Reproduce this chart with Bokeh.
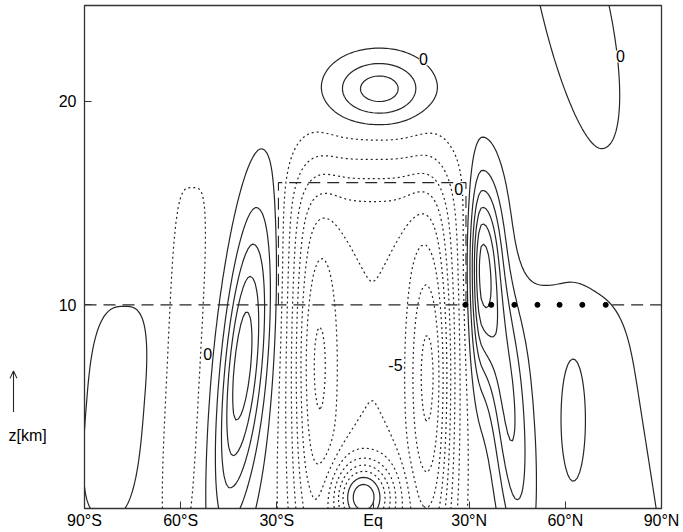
import numpy as np
from bokeh.plotting import figure
from bokeh.layouts import row
from bokeh.models import ColumnDataSource, FixedTicker, LabelSet
from bokeh.core.properties import value
from bokeh.embed import file_html
from bokeh.resources import INLINE

# ---- axes -----------------------------------------------------------------
lat_ticks = [-90, -60, -30, 0, 30, 60, 90]
lat_tick_labels = ["90°S", "60°S", "30°S", "Eq", "30°N", "60°N", "90°N"]
z_ticks = [10, 20]
z_top = 24.7

# ---- field: background plus localised features (lat/z centres, widths,
#      amplitudes, shape exponent, tilt in deg per km) ----------------------
background = -0.5
feat_lat    = [0.0, -18.0, 18.0, -41.0, -80.0, -59.0, 2.0, -3.0, 34.0, 42.0, 56.0, 62.5, 61.0]
feat_z      = [9.0, 7.0, 6.5, 7.0, 5.0, 7.0, 20.6, 0.6, 12.0, 5.0, 5.0, 4.4, 25.0]
feat_wsouth = [25.5, 7.0, 7.0, 6.0, 9.6, 6.0, 14.0, 9.0, 3.5, 5.0, 18.0, 5.0, 9.5]
feat_wnorth = [25.0, 7.0, 6.5, 7.5, 8.7, 6.0, 14.0, 9.0, 6.0, 6.0, 30.0, 5.0, 12.5]
feat_hlow   = [14.0, 8.0, 8.0, 7.0, 5.5, 10.0, 1.5, 1.7, 5.0, 7.0, 20.0, 4.0, 7.5]
feat_hhigh  = [8.0, 7.0, 7.0, 7.0, 5.0, 10.0, 1.5, 1.7, 4.0, 6.0, 6.5, 4.0, 6.0]
feat_amp    = [-4.5, -2.8, -4.0, 5.2, 1.3, -0.9, 3.0, 6.5, 5.5, 3.0, 1.0, 0.9, 1.3]
feat_power  = [5, 2, 2, 2, 3, 4, 2, 2, 2, 2, 4, 2, 2]
feat_tilt   = [0.0, 0.0, 0.0, 0.6, 0.5, 0.3, 0.0, 0.0, 0.0, -0.5, -1.0, 0.0, -1.4]

neg_levels = [-12, -11, -10, -9, -8, -7, -6, -5, -4, -3, -2, -1]
pos_levels = [0, 1, 2, 3, 4, 5, 6, 7]

# reference lines and markers
z_ref = 10
tropo_box_lat = [-29.5, -29.5, 29.0, 29.0]
tropo_box_z = [10, 16, 16, 10]
dot_lat = [28.8, 36.9, 44.1, 51.3, 58.2, 65.3, 72.6]

label_text = ["0", "0", "0", "0", "-5"]
label_lat = [15.7, 77.2, 26.7, -51.6, 7.0]
label_z = [22.05, 22.2, 15.7, 7.6, 7.05]

ink = "#262626"
font = "Liberation Sans"


def build_field(lat, z):
    f = np.full_like(lat, background)
    for i in range(len(feat_lat)):
        dz = z - feat_z[i]
        dl = lat - (feat_lat[i] + feat_tilt[i] * dz)
        w = np.where(dl < 0, feat_wsouth[i], feat_wnorth[i])
        h = np.where(dz < 0, feat_hlow[i], feat_hhigh[i])
        p = feat_power[i]
        f = f + feat_amp[i] * np.exp(-(np.abs(dl / w) ** p + np.abs(dz / h) ** p))
    return f


lat_grid = np.linspace(-90, 90, 241)
z_grid = np.linspace(0, z_top, 200)
LAT, Z = np.meshgrid(lat_grid, z_grid)
F = build_field(LAT, Z)

# ---- main latitude-height panel ----------------------------------------------
p = figure(width=633, height=532, x_range=(-90, 90), y_range=(0, z_top),
           output_backend="svg", toolbar_location=None,
           min_border_left=34, min_border_right=22, min_border_top=5,
           min_border_bottom=24)
p.xgrid.visible = False
p.ygrid.visible = False
p.outline_line_color = "#333333"
p.outline_line_width = 1.3

p.contour(LAT, Z, F, levels=neg_levels, line_color=ink, line_width=1.2,
          line_dash="2 3")
p.contour(LAT, Z, F, levels=pos_levels, line_color=ink, line_width=1.2)

# tropopause reference lines
p.line([-90, dot_lat[0]], [z_ref, z_ref], line_color=ink, line_width=1.1,
       line_dash="12 7")
p.line([dot_lat[-1] + 2.0, 90], [z_ref, z_ref], line_color=ink, line_width=1.1,
       line_dash="12 7")
p.line(tropo_box_lat, tropo_box_z, line_color=ink, line_width=1.1,
       line_dash="12 7")
p.scatter(dot_lat, [z_ref] * len(dot_lat), size=5, color="black")

labels = ColumnDataSource(dict(x=label_lat, y=label_z, t=label_text))
p.add_layout(LabelSet(x="x", y="y", text="t", source=labels,
                      text_align="center", text_baseline="middle",
                      text_font=value(font), text_font_size="16px",
                      text_color="black",
                      background_fill_color="white", background_fill_alpha=1.0))

for ax in (p.xaxis, p.yaxis):
    ax.axis_line_color = None
    ax.major_tick_in = 7
    ax.major_tick_out = 0
    ax.minor_tick_line_color = None
    ax.major_tick_line_color = "#333333"
    ax.major_label_text_font = font
    ax.major_label_text_font_size = "16px"
    ax.major_label_text_color = "black"

p.xaxis.ticker = FixedTicker(ticks=lat_ticks)
p.xaxis.major_label_overrides = {t: s for t, s in zip(lat_ticks, lat_tick_labels)}
p.xaxis.major_label_standoff = 3
p.yaxis.ticker = FixedTicker(ticks=z_ticks)
p.yaxis.major_label_standoff = 8

# ---- narrow margin panel with the height-axis arrow and unit -----------------
# (its frame is aligned with the main frame, so it shares the height scale)
side = figure(width=50, height=532, x_range=(0, 50), y_range=(0, z_top),
              output_backend="svg", toolbar_location=None,
              x_axis_location=None, y_axis_location=None,
              min_border_left=0, min_border_right=0, min_border_top=5,
              min_border_bottom=24)
side.outline_line_color = None
side.xgrid.visible = False
side.ygrid.visible = False
arrow_x = 13
arrow_z0, arrow_z1 = 4.74, 6.75
side.segment(x0=[arrow_x], y0=[arrow_z0], x1=[arrow_x], y1=[arrow_z1],
             line_color=ink, line_width=1.1)
side.line([arrow_x - 3.5, arrow_x, arrow_x + 3.5],
          [arrow_z1 - 0.36, arrow_z1, arrow_z1 - 0.36],
          line_color=ink, line_width=1.1)
side.text(x=[8], y=[3.59], text=["z[km]"], text_font=value(font),
          text_font_size="16px", text_align="left", text_baseline="middle",
          text_color="black")

open("out.html", "w").write(file_html(row(side, p, spacing=0), INLINE))
